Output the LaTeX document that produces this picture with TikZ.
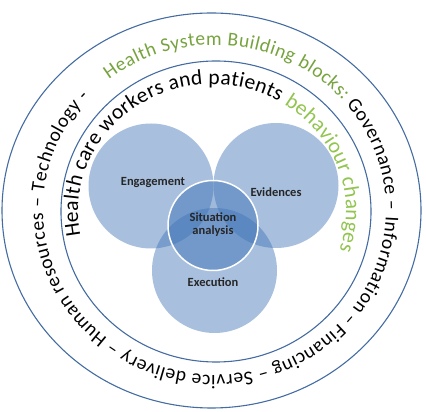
\documentclass[tikz,border=0pt]{standalone}
\usepackage{fontspec}
\setmainfont{Carlito}
\usetikzlibrary{decorations.text}
\definecolor{ringblue}{RGB}{68,108,163}
\definecolor{vennblue}{RGB}{62,115,182}
\definecolor{hsgreen}{RGB}{118,163,62}
\definecolor{bcgreen}{RGB}{146,196,80}
\newcommand{\outerfont}{\fontsize{19.5}{22}\selectfont}
\newcommand{\innerfont}{\fontsize{21.5}{24}\selectfont}

\begin{document}
\begin{tikzpicture}
  [
   x=1pt, y=1pt,
   ring/.style={draw=ringblue, line width=1.1pt},
   vc/.style={circle, fill=vennblue, fill opacity=0.45, minimum size=125pt, inner sep=0pt},
   sc/.style={circle, draw=white, line width=1.5pt, fill=vennblue, fill opacity=0.5, minimum size=90pt, inner sep=0pt},
   lbl/.style={font=\fontsize{12.5}{13}\selectfont\bfseries, text=black!85, align=center}
  ]
   \useasboundingbox (0,0) rectangle (426,412);

   % rings
   \coordinate (oc) at (211.5,201.5);
   \coordinate (ic) at (216,200.5);
   \draw[ring] (oc) ellipse [x radius=209.5pt, y radius=197.5pt];
   \draw[ring] (ic) ellipse [x radius=155pt, y radius=150.5pt];

   % venn circles
   \node[vc] (eng) at (151,226) {};
   \node[vc] (evi) at (276,226.5) {};
   \node[vc] (exe) at (214.5,141.5) {};
   \node[sc] (sit) at (213,186.5) {};

   \node[lbl] (engl) at (153,229) {Engagement};
   \node[lbl] (evil) at (276,220) {Evidences};
   \node[lbl] (sitl) at (213,187) {Situation\\analysis};
   \node[lbl] (exel) at (213,130) {Execution};

   % text round the rings
   \coordinate (to) at (214.5,202);
   \coordinate (ti) at (212,200.5);
   \path[decorate, decoration={text along path, text align={fit to path},
     text={|\outerfont\color{hsgreen}|Health System Building blocks: |\outerfont\color{black}|Governance – Information – Financing – Service delivery – Human resources – Technology -}}]
     (to) ++(128:171.5pt and 165pt) arc[start angle=128, end angle=-223, x radius=171.5pt, y radius=165pt];
   \path[decorate, decoration={text along path, text align={fit to path},
     text={|\innerfont|Health care workers and patients |\innerfont\color{bcgreen}|behaviour changes}}]
     (ti) ++(191:134pt and 127pt) arc[start angle=191, end angle=-18, x radius=134pt, y radius=127pt];

\end{tikzpicture}
\end{document}
